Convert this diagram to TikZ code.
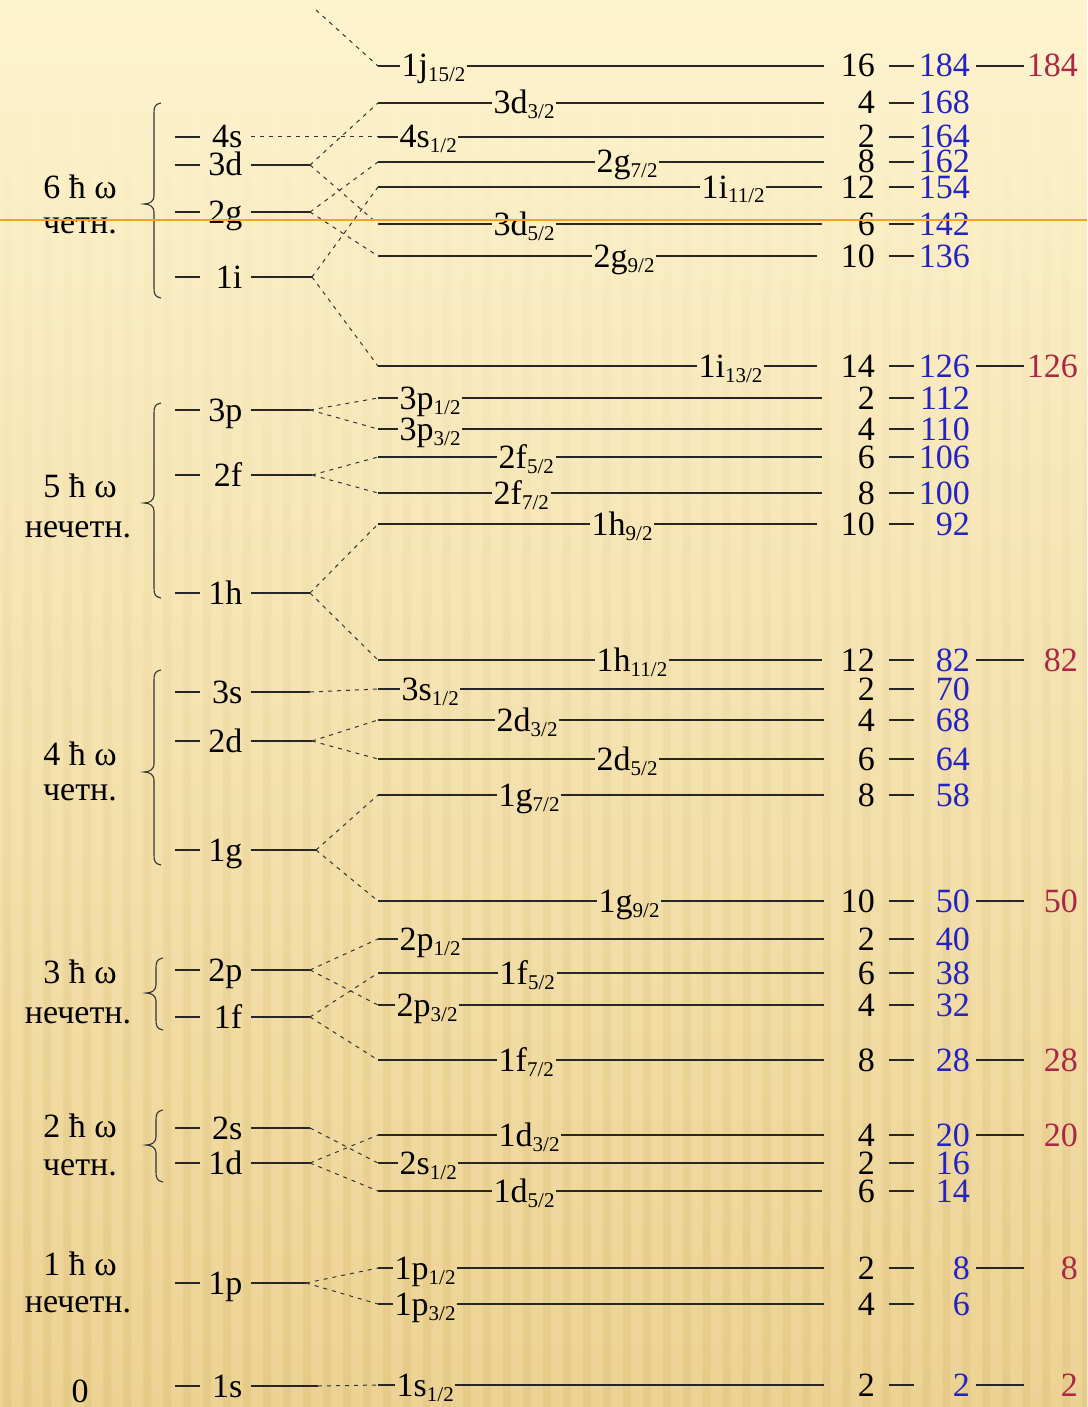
\documentclass[tikz,border=0pt]{standalone}
\usepackage{fontspec}
\usetikzlibrary{fadings}
\setmainfont{Liberation Serif}
\definecolor{bgtop}{RGB}{253,243,206}
\definecolor{bgbot}{RGB}{236,211,148}
\definecolor{stripec}{RGB}{210,172,90}
\definecolor{cumblue}{RGB}{35,35,195}
\definecolor{magred}{RGB}{170,40,70}
\definecolor{orline}{RGB}{242,162,45}
\tikzfading[name=stripefade, top color=transparent!100, bottom color=transparent!0]
\newcommand\mf{\fontsize{34}{38}\selectfont}
\newcommand\sbs[1]{\raisebox{-5pt}{\fontsize{21}{24}\selectfont #1}}
\tikzset{
  lab/.style={inner sep=1.5pt, font=\mf, text=black},
  lvl/.style={line width=1.8pt, draw=black!85},
  con/.style={line width=1pt, draw=black!80, dash pattern=on 4pt off 5pt},
  brc/.style={line width=1.1pt, draw=black!80},
  cum/.style={inner sep=0pt, font=\mf, text=cumblue},
  mag/.style={inner sep=0pt, font=\mf, text=magred},
  deg/.style={inner sep=0pt, font=\mf, text=black},
  grp/.style={inner sep=0pt, font=\mf, text=black},
  orl/.style={line width=2.8pt, draw=orline},
  stripes/.style={fill=stripec, fill opacity=0.22, path fading=stripefade}
}
% right-hand level: name, y, label x, label, end x, degeneracy, cumulative
\newcommand\rlev[7]{%
  \coordinate (#1s) at (378,#2);
  \coordinate (#1e) at (#5,#2);
  \node[lab,anchor=base west] (#1) at (#3,{#2+11}) {#4};
  \draw[lvl] (#1s) -- (#1.west |- #1s);
  \draw[lvl] (#1.east |- #1s) -- (#1e);
  \node[deg,anchor=base east] (#1d) at (875,{#2+11}) {#6};
  \coordinate (#1p) at (889,#2);
  \coordinate (#1q) at (914,#2);
  \draw[lvl] (#1p) -- (#1q);
  \node[cum,anchor=base east] (#1c) at (970,{#2+11}) {#7};
}
\newcommand\magic[3]{%
  \coordinate (#1u) at (976,#2);
  \coordinate (#1v) at (1024,#2);
  \draw[lvl] (#1u) -- (#1v);
  \node[mag,anchor=base east] (#1m) at (1078,{#2+11}) {#3};
}
% left-hand level: name, y, label, end x of solid line
\newcommand\llev[4]{%
  \coordinate (#1a) at (175,#2);
  \coordinate (#1b) at (200,#2);
  \draw[lvl] (#1a) -- (#1b);
  \node[lab,anchor=base east] (#1) at (244,{#2+11}) {#3};
  \coordinate (#1s) at (251,#2);
  \coordinate (#1e) at (#4,#2);
  \draw[lvl] (#1s) -- (#1e);
}
% brace: tip x, top y, mid y, bottom y
\newcommand\brc[4]{%
  \draw[brc] ({#1+17},{#2}) .. controls ({#1+11},{#2+1}) and ({#1+10},{#2+4}) .. ({#1+10},{#2+10})
    -- ({#1+10},{#3-8}) .. controls ({#1+10},{#3-3}) and ({#1+6},{#3}) .. ({#1},{#3})
    .. controls ({#1+6},{#3}) and ({#1+10},{#3+3}) .. ({#1+10},{#3+8})
    -- ({#1+10},{#4-10}) .. controls ({#1+10},{#4-4}) and ({#1+11},{#4-1}) .. ({#1+17},{#4});
}
\begin{document}
\begin{tikzpicture}[x=1pt,y=-1pt]
\useasboundingbox (0,0) rectangle (1087,1407);
\fill[top color=bgtop, bottom color=bgbot] (0,0) rectangle (1087,1407);
\path[stripes] \foreach \i in {0,...,54} { ({\i*20+4},100) rectangle ({\i*20+12},1407) };

% group labels
\node[grp,anchor=base] (g6a) at (80,198) {6 ħ ω};
\node[grp,anchor=base] (g6b) at (80,233) {четн.};
\node[grp,anchor=base] (g5a) at (80,497) {5 ħ ω};
\node[grp,anchor=base] (g5b) at (78,537) {нечетн.};
\node[grp,anchor=base] (g4a) at (80,765) {4 ħ ω};
\node[grp,anchor=base] (g4b) at (80,800) {четн.};
\node[grp,anchor=base] (g3a) at (80,983) {3 ħ ω};
\node[grp,anchor=base] (g3b) at (78,1023) {нечетн.};
\node[grp,anchor=base] (g2a) at (80,1137) {2 ħ ω};
\node[grp,anchor=base] (g2b) at (80,1175) {четн.};
\node[grp,anchor=base] (g1a) at (80,1275) {1 ħ ω};
\node[grp,anchor=base] (g1b) at (78,1312) {нечетн.};
\node[grp,anchor=base] (g0) at (80,1402) {0};

% braces
\brc{144}{103}{204}{298}
\brc{144}{403}{503}{598}
\brc{144}{670}{772}{865}
\brc{146}{958}{993}{1030}
\brc{146}{1110}{1145}{1182}

% left levels
\llev{l4s}{137}{4s}{251}
\llev{l3d}{165}{3d}{310}
\llev{l2g}{212}{2g}{310}
\llev{l1i}{277}{1i}{312}
\llev{l3p}{410}{3p}{310}
\llev{l2f}{475}{2f}{312}
\llev{l1h}{593}{1h}{310}
\llev{l3s}{692}{3s}{310}
\llev{l2d}{741}{2d}{312}
\llev{l1g}{850}{1g}{316}
\llev{l2p}{970}{2p}{310}
\llev{l1f}{1017}{1f}{310}
\llev{l2s}{1128}{2s}{310}
\llev{l1d}{1163}{1d}{310}
\llev{l1p}{1283}{1p}{306}
\llev{l1s}{1386}{1s}{318}

% right levels
\rlev{r1}{66}{400}{1j\sbs{15/2}}{824}{16}{184}
\rlev{r2}{103}{492}{3d\sbs{3/2}}{824}{4}{168}
\rlev{r3}{137}{398}{4s\sbs{1/2}}{824}{2}{164}
\rlev{r4}{162}{595}{2g\sbs{7/2}}{824}{8}{162}
\rlev{r5}{187}{700}{1i\sbs{11/2}}{822}{12}{154}
\rlev{r6}{224}{492}{3d\sbs{5/2}}{822}{6}{142}
\rlev{r7}{256}{592}{2g\sbs{9/2}}{817}{10}{136}
\rlev{r8}{366}{697}{1i\sbs{13/2}}{817}{14}{126}
\rlev{r9}{398}{398}{3p\sbs{1/2}}{822}{2}{112}
\rlev{r10}{429}{398}{3p\sbs{3/2}}{822}{4}{110}
\rlev{r11}{457}{497}{2f\sbs{5/2}}{822}{6}{106}
\rlev{r12}{493}{492}{2f\sbs{7/2}}{822}{8}{100}
\rlev{r13}{524}{590}{1h\sbs{9/2}}{817}{10}{92}
\rlev{r14}{660}{595}{1h\sbs{11/2}}{822}{12}{82}
\rlev{r15}{689}{400}{3s\sbs{1/2}}{824}{2}{70}
\rlev{r16}{720}{495}{2d\sbs{3/2}}{824}{4}{68}
\rlev{r17}{759}{595}{2d\sbs{5/2}}{824}{6}{64}
\rlev{r18}{795}{497}{1g\sbs{7/2}}{824}{8}{58}
\rlev{r19}{901}{597}{1g\sbs{9/2}}{824}{10}{50}
\rlev{r20}{939}{398}{2p\sbs{1/2}}{824}{2}{40}
\rlev{r21}{973}{498}{1f\sbs{5/2}}{824}{6}{38}
\rlev{r22}{1005}{395}{2p\sbs{3/2}}{824}{4}{32}
\rlev{r23}{1060}{497}{1f\sbs{7/2}}{824}{8}{28}
\rlev{r24}{1135}{497}{1d\sbs{3/2}}{824}{4}{20}
\rlev{r25}{1163}{398}{2s\sbs{1/2}}{824}{2}{16}
\rlev{r26}{1191}{492}{1d\sbs{5/2}}{822}{6}{14}
\rlev{r27}{1268}{393}{1p\sbs{1/2}}{824}{2}{8}
\rlev{r28}{1304}{393}{1p\sbs{3/2}}{824}{4}{6}
\rlev{r29}{1385}{395}{1s\sbs{1/2}}{824}{2}{2}

% magic numbers
\magic{r1}{66}{184}
\magic{r8}{366}{126}
\magic{r14}{660}{82}
\magic{r19}{901}{50}
\magic{r23}{1060}{28}
\magic{r24}{1135}{20}
\magic{r27}{1268}{8}
\magic{r29}{1385}{2}

% splitting connectors
\coordinate (top) at (316,10);
\draw[con] (top) -- (r1s);
\draw[con] (l4se) -- (r3s);
\draw[con] (l3de) -- (r2s);  \draw[con] (l3de) -- (r6s);
\draw[con] (l2ge) -- (r4s);  \draw[con] (l2ge) -- (r7s);
\draw[con] (l1ie) -- (r5s);  \draw[con] (l1ie) -- (r8s);
\draw[con] (l3pe) -- (r9s);  \draw[con] (l3pe) -- (r10s);
\draw[con] (l2fe) -- (r11s); \draw[con] (l2fe) -- (r12s);
\draw[con] (l1he) -- (r13s); \draw[con] (l1he) -- (r14s);
\draw[con] (l3se) -- (r15s);
\draw[con] (l2de) -- (r16s); \draw[con] (l2de) -- (r17s);
\draw[con] (l1ge) -- (r18s); \draw[con] (l1ge) -- (r19s);
\draw[con] (l2pe) -- (r20s); \draw[con] (l2pe) -- (r22s);
\draw[con] (l1fe) -- (r21s); \draw[con] (l1fe) -- (r23s);
\draw[con] (l2se) -- (r25s);
\draw[con] (l1de) -- (r24s); \draw[con] (l1de) -- (r26s);
\draw[con] (l1pe) -- (r27s); \draw[con] (l1pe) -- (r28s);
\draw[con] (l1se) -- (r29s);

% orange rule
\coordinate (oa) at (0,220);
\coordinate (ob) at (1087,220);
\draw[orl] (oa) -- (ob);
\end{tikzpicture}
\end{document}
